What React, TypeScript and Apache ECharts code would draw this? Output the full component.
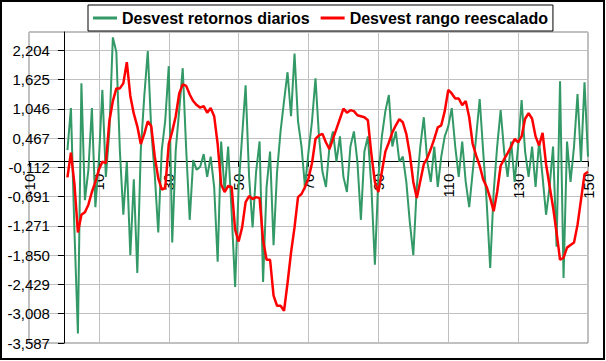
import React, { useEffect, useRef } from "react";
import * as echarts from "echarts";

const days: number[] = Array.from({ length: 150 }, (_, i) => i + 1);

const seriesNames = ["Desvest retornos diarios", "Desvest rango reescalado"];

const greenValues: number[] = [
  0.23, 1.06, -1.35, -3.4, 1.55, -0.76, -0.16, 1.06, -0.9, 0.03,
  1.42, -0.3, 0.6, 2.46, 2.17, 0.23, -1.05, 0.0, -1.85, -0.35,
  -2.2, 0.23, 1.3, 2.19, 0.62, -0.26, -1.4, 0.23, 0.82, 1.89,
  -1.6, 0.23, 1.02, 1.85, 0.23, -1.15, 0.03, -0.16, -0.1, 0.15,
  -0.3, 0.1, -0.5, -1.98, 0.4, -0.6, 0.3, -1.0, -2.48, -0.5,
  0.5, 1.51, -0.3, -1.3, -0.2, 0.4, -2.38, -0.5, 0.2, -1.65,
  -0.2, 0.6, 1.2, 1.77, 0.9, 2.14, 0.8, 0.3, -0.5, 0.2,
  0.8, 1.65, 0.5, -0.2, -0.5, 0.3, 0.6, 0.0, 0.5, -0.3,
  -0.6, 0.3, 0.6, 0.0, -1.15, 0.2, 0.5, -0.5, -2.04, -0.3,
  0.5, 1.0, 1.32, 0.3, 0.6, 0.0, 0.1, -0.4, -1.2, -1.85,
  -0.5, 0.3, 0.88, 0.0, -0.4, 0.3, -0.5, 0.1, 0.5, 0.7,
  1.06, 0.3, -0.3, 0.4, -0.4, -0.9, -0.2, 0.5, 1.24, 0.2,
  -0.8, -2.1, -0.6, 0.3, 1.02, 0.2, -0.3, 0.4, -0.4, 0.3,
  1.22, 0.2, -0.3, 0.3, -0.5, 0.4, -0.3, -1.05, -0.5, 0.3,
  -1.68, 1.59, -2.3, 0.4, -0.4, 0.3, 1.34, 0.0, 1.57, 0.1,
];

const redValues: number[] = [
  -0.31, 0.18, -0.44, -1.4, -1.05, -1.0, -0.85, -0.6, -0.4, -0.16,
  0.0, -0.03, 0.8, 1.2, 1.45, 1.45, 1.55, 1.97, 1.3, 0.95,
  0.7, 0.35, 0.55, 0.8, 0.7, 0.1, -0.33, -0.55, -0.52, 0.35,
  0.6, 0.9, 1.35, 1.53, 1.5, 1.33, 1.2, 1.12, 1.07, 1.1,
  0.97, 1.06, 0.9, 0.35, -0.45, -0.6, -0.48, -0.5, -1.35, -1.58,
  -1.3, -0.8, -0.68, -0.74, -0.7, -0.72, -1.55, -1.94, -1.94, -2.65,
  -2.85, -2.85, -2.95, -2.4, -1.8, -1.3, -0.7, -0.64, -0.5, -0.33,
  -0.03, 0.45, 0.52, 0.55, 0.38, 0.25, 0.45, 0.65, 0.85, 1.05,
  0.97, 1.02, 1.0, 0.92, 0.9, 0.88, 0.82, 0.15, -0.4, -0.6,
  -0.2, 0.2, 0.38, 0.58, 0.72, 0.84, 0.78, 0.55, 0.15, -0.4,
  -0.72, -0.38, -0.05, 0.07, 0.25, 0.45, 0.68, 0.72, 1.0, 1.42,
  1.35, 1.25, 1.25, 1.12, 1.2, 0.88, 0.35, 0.12, -0.08, -0.35,
  -0.5, -0.72, -0.98, -0.6, -0.08, 0.05, 0.17, 0.3, 0.45, 0.38,
  0.5, 0.85, 0.96, 0.85, 0.5, 0.32, 0.57, -0.05, -0.48, -0.9,
  -1.4, -1.94, -1.9, -1.7, -1.65, -1.6, -1.25, -0.75, -0.25, -0.2,
];

const yTickLabels = [
  "-3,587", "-3,008", "-2,429", "-1,850", "-1,271", "-0,691",
  "-0,112", "0,467", "1,046", "1,625", "2,204",
];
const Y_MIN = -3.587;
const Y_MAX = 2.566;
const Y_STEP = 0.5791;
const X_MIN = -10;
const X_MAX = 150;
const X_STEP = 20;

const FONT = "'Liberation Sans', Arial, sans-serif";

const W = 606;
const H = 361;
const G_LEFT = 29;
const G_RIGHT = 18;
const G_TOP = 32;
const G_BOTTOM = 18;

export default function App() {
  const ref = useRef<HTMLDivElement | null>(null);

  useEffect(() => {
    if (!ref.current) return;
    const chart = echarts.init(ref.current, undefined, { renderer: "svg" });
    const toPairs = (vals: number[]) => days.map((d, i) => [d, vals[i]]);
    const gw = W - G_LEFT - G_RIGHT;
    const gh = H - G_TOP - G_BOTTOM;
    // distance of the zero lines from the grid's bottom / left edges
    const xAxisOffset = -(gh * (0 - Y_MIN)) / (Y_MAX - Y_MIN);
    const yAxisOffset = -(gw * (0 - X_MIN)) / (X_MAX - X_MIN);
    const option: any = {
      animation: false,
      backgroundColor: "#ffffff",
      grid: {
        left: G_LEFT,
        right: G_RIGHT,
        top: G_TOP,
        bottom: G_BOTTOM,
        containLabel: false,
        outerBoundsMode: "none",
        show: true,
        borderColor: "#808080",
        borderWidth: 1,
        backgroundColor: "transparent",
      },
      legend: {
        left: 88,
        top: 5,
        orient: "horizontal",
        icon: "rect",
        itemWidth: 24,
        itemHeight: 3,
        itemGap: 11,
        padding: [5, 5],
        borderColor: "#000",
        borderWidth: 1,
        backgroundColor: "#fff",
        textStyle: { fontFamily: FONT, fontSize: 16, fontWeight: "bold", color: "#000" },
        data: seriesNames,
      },
      xAxis: {
        type: "value",
        min: X_MIN,
        max: X_MAX,
        interval: X_STEP,
        position: "bottom",
        offset: xAxisOffset,
        axisLine: { onZero: false, lineStyle: { color: "#000", width: 1 } },
        axisTick: { show: true, length: 5, lineStyle: { color: "#000" } },
        axisLabel: {
          rotate: 90,
          fontFamily: FONT,
          fontSize: 15,
          color: "#000",
          margin: 12,
          showMinLabel: true,
          showMaxLabel: true,
          formatter: (v: number) => String(v),
        },
        splitLine: { show: true, lineStyle: { color: "#c0c0c0", width: 1 } },
      },
      yAxis: {
        type: "value",
        min: Y_MIN,
        max: Y_MAX,
        interval: Y_STEP,
        position: "left",
        offset: yAxisOffset,
        axisLine: { onZero: false, lineStyle: { color: "#000", width: 1 } },
        axisTick: { show: true, length: 6, lineStyle: { color: "#000" } },
        axisLabel: {
          fontFamily: FONT,
          fontSize: 15,
          color: "#000",
          margin: 14,
          showMaxLabel: false,
          formatter: (v: number) => {
            const k = Math.round((v - Y_MIN) / Y_STEP);
            if (Math.abs(v - (Y_MIN + k * Y_STEP)) > 0.001) return "";
            return yTickLabels[k] ?? "";
          },
        },
        splitLine: { show: true, lineStyle: { color: "#c0c0c0", width: 1 } },
      },
      graphic: [
        {
          type: "rect",
          z: 100,
          silent: true,
          shape: { x: 1, y: 1, width: 603, height: 358 },
          style: { fill: "none", stroke: "#000", lineWidth: 2 },
        },
      ],
      series: [
        {
          name: seriesNames[0],
          type: "line",
          data: toPairs(greenValues),
          symbol: "none",
          lineStyle: { color: "#339966", width: 2 },
          itemStyle: { color: "#339966" },
        },
        {
          name: seriesNames[1],
          type: "line",
          data: toPairs(redValues),
          symbol: "none",
          lineStyle: { color: "#ff0000", width: 2.5 },
          itemStyle: { color: "#ff0000" },
        },
      ],
    };
    chart.setOption(option);
    return () => chart.dispose();
  }, []);

  return (
    <div
      ref={ref}
      style={{ position: "absolute", left: 0, top: 0, width: W, height: H }}
    />
  );
}
